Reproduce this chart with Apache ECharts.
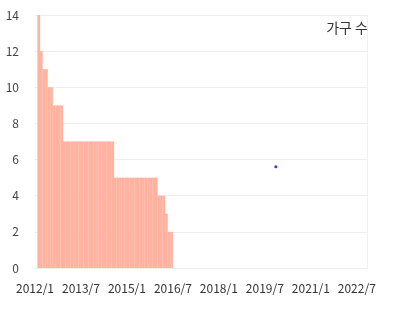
<!DOCTYPE html>
<html>
<head>
<meta charset="utf-8">
<script src="https://cdn.jsdelivr.net/npm/echarts@6/dist/echarts.min.js"></script>
<style>html,body{margin:0;padding:0;background:#fff}#c{width:401px;height:321px}</style>
</head>
<body>
<div id="c"></div>
<script>
// Bar data: mid-month dates and household counts
const barDates = [
  '2012-02-15','2012-03-15','2012-04-15','2012-05-15','2012-06-15','2012-07-15',
  '2012-08-15','2012-09-15','2012-10-15','2012-11-15','2012-12-15',
  '2013-01-15','2013-02-15','2013-03-15','2013-04-15','2013-05-15','2013-06-15',
  '2013-07-15','2013-08-15','2013-09-15','2013-10-15','2013-11-15','2013-12-15',
  '2014-01-15','2014-02-15','2014-03-15','2014-04-15','2014-05-15','2014-06-15',
  '2014-07-15','2014-08-15','2014-09-15','2014-10-15','2014-11-15','2014-12-15',
  '2015-01-15','2015-02-15','2015-03-15','2015-04-15','2015-05-15','2015-06-15',
  '2015-07-15','2015-08-15','2015-09-15','2015-10-15','2015-11-15','2015-12-15',
  '2016-01-15','2016-02-15','2016-03-15','2016-04-15','2016-05-15','2016-06-15'
];
const barValues = [
  14, 12, 11, 11, 10, 10,
  9, 9, 9, 9, 7,
  7, 7, 7, 7, 7, 7,
  7, 7, 7, 7, 7, 7,
  7, 7, 7, 7, 7, 7,
  7, 5, 5, 5, 5, 5,
  5, 5, 5, 5, 5, 5,
  5, 5, 5, 5, 5, 5,
  4, 4, 4, 3, 2, 2
];
const pointDates = ['2019-11-10'];
const pointValues = [5.6];
const xTickStart = '2012-01-01';
const xTickEnd = '2022-11-01';
const yTicks = [0, 2, 4, 6, 8, 10, 12, 14];
const seriesName = '가구 수';

const BASE_YEAR = 2012;
function toMonth(s) {
  const p = s.split('-').map(Number);
  return (p[0] - BASE_YEAR) * 12 + (p[1] - 1) + (p[2] - 1) / 30;
}
function monthLabel(v) {
  const m = Math.round(v);
  const y = BASE_YEAR + Math.floor(m / 12);
  return y + '/' + ((m % 12 + 12) % 12 + 1);
}

const font = 'Noto Sans CJK KR';
const chart = echarts.init(document.getElementById('c'), null, {renderer: 'canvas'});
chart.setOption({
  animation: false,
  backgroundColor: '#fff',
  title: {
    text: seriesName,
    right: 28, top: 16,
    textStyle: {fontSize: 14, fontWeight: 'normal', color: '#333', fontFamily: font}
  },
  grid: {left: 35, right: 34, top: 15, bottom: 53, containLabel: false},
  xAxis: {
    type: 'value',
    min: toMonth(xTickStart),
    max: toMonth(xTickEnd),
    interval: 18,
    axisLine: {show: false},
    axisTick: {show: false},
    splitLine: {show: false},
    axisLabel: {
      margin: 14, color: '#333', fontSize: 12, fontFamily: font,
      formatter: monthLabel, showMaxLabel: false
    }
  },
  yAxis: [{
    type: 'value',
    min: yTicks[0], max: yTicks[yTicks.length - 1], interval: 2,
    axisLine: {show: false},
    axisTick: {show: false},
    axisLabel: {margin: 16, color: '#444', fontSize: 12, fontFamily: font},
    splitLine: {lineStyle: {color: '#eeeeee'}}
  }, {
    type: 'value', position: 'right',
    min: yTicks[0], max: yTicks[yTicks.length - 1], interval: 2,
    axisLine: {show: true, lineStyle: {color: '#f0f0f0'}},
    axisTick: {show: false}, axisLabel: {show: false}, splitLine: {show: false}
  }],
  series: [{
    name: seriesName,
    type: 'bar',
    barWidth: 2.7,
    itemStyle: {color: '#ffb2a0'},
    data: barDates.map((d, i) => [toMonth(d), barValues[i]])
  }, {
    type: 'scatter',
    symbolSize: 3,
    itemStyle: {color: '#0000ff'},
    data: pointDates.map((d, i) => [toMonth(d), pointValues[i]])
  }]
});
</script>
</body>
</html>
